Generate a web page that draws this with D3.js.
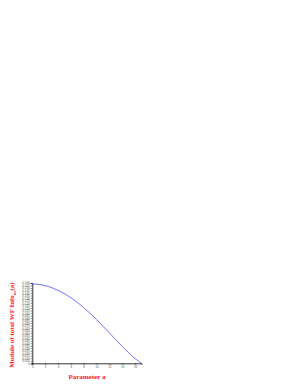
<!DOCTYPE html>
<html>
<head>
<meta charset="utf-8">
<script src="https://cdn.jsdelivr.net/npm/d3@7"></script>
<style>
  body { margin: 0; background: #fff; }
  svg { display: block; }
</style>
</head>
<body>
<div id="chart"></div>
<script>
// parameter a values and the curve
const aValues = [0, 1, 2, 3, 4, 5, 6, 7, 8, 9, 10, 11, 12, 13, 14, 15, 16, 17]
const infoValues = [0.158, 0.1572, 0.1548, 0.1508, 0.1454, 0.1387, 0.1305, 0.1215, 0.1110,
                    0.0995, 0.0870, 0.0740, 0.0605, 0.0470, 0.0335, 0.0210, 0.0095, 0.0]

const xTicks = [0, 2, 4, 6, 8, 10, 12, 14, 16]
const yTicks = d3.range(0, 33).map(i => i * 0.005)

const width = 300
const height = 388
const pLeft = 32.3, pRight = 141.5, pTop = 283, pBottom = 363.3

const svg = d3.select('#chart')
  .append('svg')
  .attr('width', width)
  .attr('height', height)

const xScale = d3.scaleLinear()
  .domain([0, 17])
  .range([pLeft, pRight])

const yScale = d3.scaleLinear()
  .domain([0, 0.16])
  .range([pBottom, pTop])

const xAxis = d3.axisBottom(xScale)
  .tickValues(xTicks)
  .tickSize(1.5)
  .tickPadding(1)
  .tickFormat(d3.format('d'))

const yAxis = d3.axisLeft(yScale)
  .tickValues(yTicks)
  .tickSize(1.5)
  .tickPadding(1)
  .tickFormat(d => d === 0 ? '0' : d3.format('.3f')(d))

const gx = svg.append('g')
  .attr('transform', 'translate(0,' + pBottom + ')')
  .call(xAxis)

const gy = svg.append('g')
  .attr('transform', 'translate(' + pLeft + ',0)')
  .call(yAxis)

;[gx, gy].forEach(g => {
  g.selectAll('path').attr('stroke', '#000').attr('stroke-width', 0.8)
  g.selectAll('line').attr('stroke', '#000').attr('stroke-width', 0.5)
  g.selectAll('text')
    .attr('font-family', 'Liberation Sans, Arial, sans-serif')
    .attr('font-size', 3)
    .attr('fill', '#555')
})

// curve
const line = d3.line()
  .x((d, i) => xScale(aValues[i]))
  .y(d => yScale(d))
  .curve(d3.curveMonotoneX)

svg.append('path')
  .datum(infoValues)
  .attr('fill', 'none')
  .attr('stroke', '#4a4aff')
  .attr('stroke-width', 0.8)
  .attr('d', line)

// axis titles
svg.append('text')
  .attr('x', (pLeft + pRight) / 2)
  .attr('y', 379)
  .attr('text-anchor', 'middle')
  .attr('font-family', 'Liberation Serif, Times New Roman, serif')
  .attr('font-weight', 'bold')
  .attr('font-size', 7)
  .attr('fill', '#ff2020')
  .text('Parameter a')

const yt = svg.append('text')
  .attr('transform', 'translate(14,' + ((pTop + pBottom) / 2 + 2) + ') rotate(-90)')
  .attr('text-anchor', 'middle')
  .attr('font-family', 'Liberation Serif, Times New Roman, serif')
  .attr('font-weight', 'bold')
  .attr('font-size', 7)
  .attr('fill', '#ff2020')

yt.append('tspan').text('Module of total WF Info')
yt.append('tspan').attr('font-size', 4.5).attr('dy', 1.5).text('ne')
yt.append('tspan').attr('dy', -1.5).text('(a)')
</script>
</body>
</html>
